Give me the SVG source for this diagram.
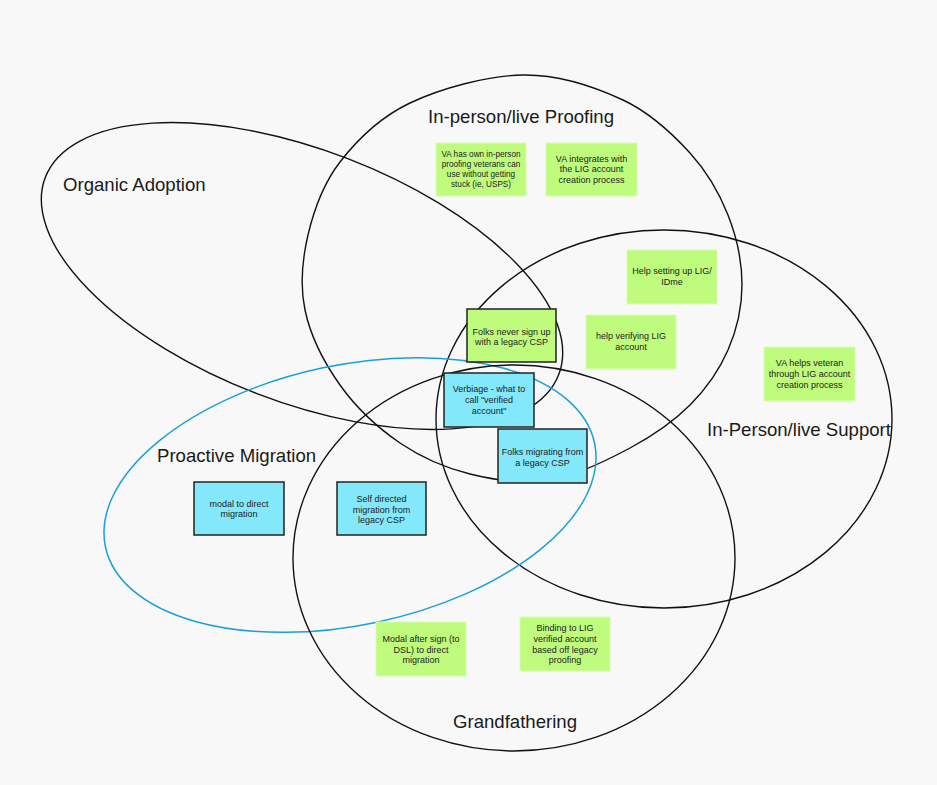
<svg xmlns="http://www.w3.org/2000/svg" width="937" height="785" viewBox="0 0 937 785">
<style>
.bg{fill:#f8f8f8}
.ring{fill:none;stroke:#111;stroke-width:1.4}
.blue{fill:none;stroke:#1aa0d6;stroke-width:1.5}
.title{font-family:"Liberation Sans",Arial,sans-serif;font-size:18.6px;fill:#1a1a1a}
.g{fill:#bffc7d;stroke:#d8fdb0;stroke-width:1}
.c{fill:#82e8fa;stroke:#222;stroke-width:1.5}
.gb{fill:#bffc7d;stroke:#222;stroke-width:1.5}
.t{font-family:"Liberation Sans",Arial,sans-serif;font-size:9px;fill:#222;text-anchor:middle}
.t8{font-size:8.2px}
</style>
<rect class="bg" x="0" y="0" width="937" height="785"/>
<g id="sets">
<g id="organic-adoption">
<ellipse class="ring" cx="302" cy="276" rx="275" ry="126" transform="rotate(21 302 276)"/>
<text class="title" x="63" y="191">Organic Adoption</text>
</g>
<g id="inperson-proofing">
<path class="ring" d="M523,75 C558.5,74.5 595.2,87 623,100 C650.8,113 672.5,133.8 690,153 C707.5,172.2 719.3,193 728,215 C736.7,237 742,262.5 742,285 C742,307.5 736.7,330 728,350 C719.3,370 706.3,388.7 690,405 C673.7,421.3 653.3,435.5 630,448 C606.7,460.5 576.7,475.7 550,480 C523.3,484.3 495,480.2 470,474 C445,467.8 421.7,457.8 400,443 C378.3,428.2 355.8,407.2 340,385 C324.2,362.8 310.3,335 305,310 C299.7,285 302.2,259.7 308,235 C313.8,210.3 323,184 340,162 C357,140 379.5,117.5 410,103 C440.5,88.5 487.5,75.5 523,75 Z"/>
<text class="title" x="428" y="123">In-person/live Proofing</text>
</g>
<g id="inperson-support">
<ellipse class="ring" cx="664" cy="419" rx="228" ry="189"/>
<text class="title" x="707" y="436">In-Person/live Support</text>
</g>
<g id="proactive-migration">
<ellipse class="blue" cx="350" cy="495" rx="250" ry="130" transform="rotate(-12 350 495)"/>
<text class="title" x="157" y="462">Proactive Migration</text>
</g>
<g id="grandfathering">
<ellipse class="ring" cx="514" cy="558" rx="221" ry="193"/>
<text class="title" x="453" y="728">Grandfathering</text>
</g>
</g>
<g id="connectors"></g>
<g id="note-own-proofing">
<rect class="g" x="436" y="143" width="90" height="53"/>
<text class="t t8"><tspan x="481" y="157.3">VA has own in-person</tspan><tspan x="481" y="167.3">proofing veterans can</tspan><tspan x="481" y="177.3">use without getting</tspan><tspan x="481" y="187.3">stuck (ie, USPS)</tspan></text>
</g>
<g id="note-integrates">
<rect class="g" x="546" y="143" width="91" height="53"/>
<text class="t"><tspan x="591.5" y="161.5">VA integrates with</tspan><tspan x="591.5" y="172.3">the LIG account</tspan><tspan x="591.5" y="183.2">creation process</tspan></text>
</g>
<g id="note-help-setup">
<rect class="g" x="627" y="250" width="90" height="54"/>
<text class="t"><tspan x="672" y="274.2">Help setting up LIG/</tspan><tspan x="672" y="285.2">IDme</tspan></text>
</g>
<g id="note-help-verify">
<rect class="g" x="586" y="315" width="90" height="54"/>
<text class="t"><tspan x="631" y="339.2">help verifying LIG</tspan><tspan x="631" y="350.2">account</tspan></text>
</g>
<g id="note-va-helps">
<rect class="g" x="764" y="347" width="91" height="54"/>
<text class="t"><tspan x="809.5" y="366.2">VA helps veteran</tspan><tspan x="809.5" y="377.2">through LIG account</tspan><tspan x="809.5" y="388.2">creation process</tspan></text>
</g>
<g id="note-never-sign-up">
<rect class="gb" x="467" y="309" width="89" height="53"/>
<text class="t"><tspan x="511.5" y="334.9">Folks never sign up</tspan><tspan x="511.5" y="344.9">with a legacy CSP</tspan></text>
</g>
<g id="note-verbiage">
<rect class="c" x="444" y="373" width="90" height="54"/>
<text class="t"><tspan x="489" y="392.3">Verbiage - what to</tspan><tspan x="489" y="403">call "verified</tspan><tspan x="489" y="413.7">account"</tspan></text>
</g>
<g id="note-folks-migrating">
<rect class="c" x="498" y="429" width="89" height="54"/>
<text class="t"><tspan x="542.5" y="454.9">Folks migrating from</tspan><tspan x="542.5" y="465.9">a legacy CSP</tspan></text>
</g>
<g id="note-modal-direct">
<rect class="c" x="194" y="482" width="90" height="53"/>
<text class="t"><tspan x="239" y="506.5">modal to direct</tspan><tspan x="239" y="517.2">migration</tspan></text>
</g>
<g id="note-self-directed">
<rect class="c" x="337" y="482" width="89" height="53"/>
<text class="t"><tspan x="381.5" y="501.5">Self directed</tspan><tspan x="381.5" y="512.5">migration from</tspan><tspan x="381.5" y="523.2">legacy CSP</tspan></text>
</g>
<g id="note-modal-after-sign">
<rect class="g" x="376" y="622" width="90" height="54"/>
<text class="t"><tspan x="421" y="641.5">Modal after sign (to</tspan><tspan x="421" y="652.5">DSL) to direct</tspan><tspan x="421" y="663.2">migration</tspan></text>
</g>
<g id="note-binding">
<rect class="g" x="520" y="617" width="90" height="54"/>
<text class="t"><tspan x="565" y="630.5">Binding to LIG</tspan><tspan x="565" y="641.5">verified account</tspan><tspan x="565" y="652.5">based off legacy</tspan><tspan x="565" y="663.2">proofing</tspan></text>
</g>
</svg>
